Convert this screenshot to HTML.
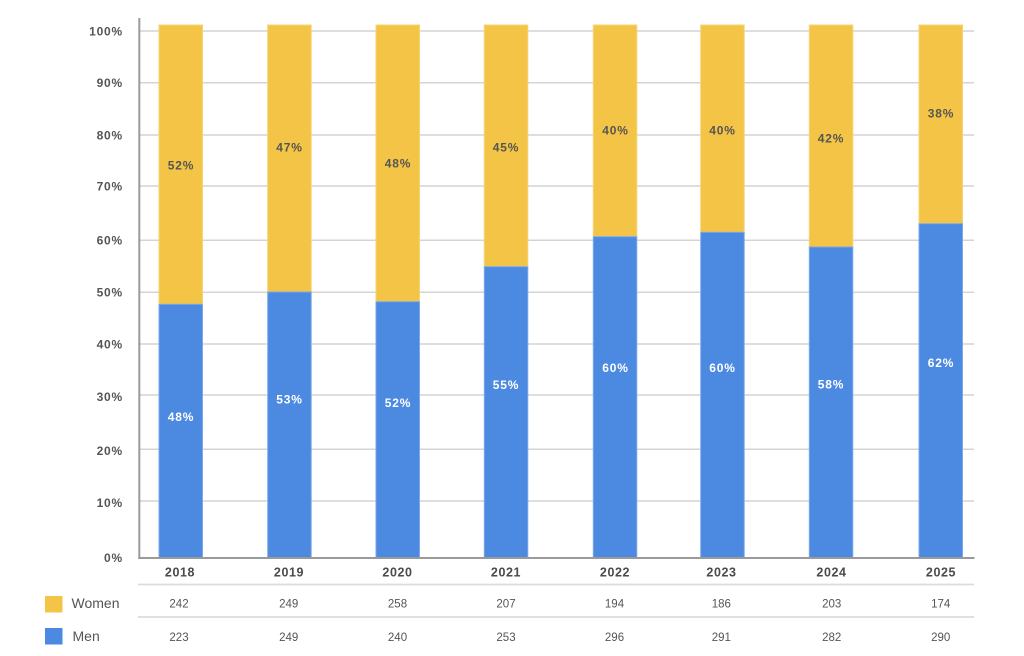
<!DOCTYPE html>
<html>
<head>
<meta charset="utf-8">
<style>
  html, body { margin:0; padding:0; background:#fff; }
  body { width:1024px; height:656px; overflow:hidden; }
  svg { display:block; }
  .yl { font-family:"Liberation Sans", sans-serif; font-weight:bold; font-size:12px; fill:#555; letter-spacing:0.8px; }
  .xl { font-family:"Liberation Sans", sans-serif; font-weight:bold; font-size:12.5px; fill:#4a4a4a; letter-spacing:0.6px; }
  .wl { font-family:"Liberation Sans", sans-serif; font-weight:bold; font-size:12px; fill:#555; letter-spacing:0.8px; }
  .ml { font-family:"Liberation Sans", sans-serif; font-weight:bold; font-size:12px; fill:#fff; letter-spacing:0.8px; }
  .tn { font-family:"Liberation Sans", sans-serif; font-size:11.5px; fill:#555; }
  .lg { font-family:"Liberation Sans", sans-serif; font-size:14px; fill:#555; }
</style>
</head>
<body>
<svg width="1024" height="656" viewBox="0 0 1024 656" xmlns="http://www.w3.org/2000/svg">
  <!-- gridlines -->
  <g stroke="#d4d4d4" stroke-width="1.5">
    <line x1="139" y1="31" x2="974" y2="31"/>
    <line x1="139" y1="82.7" x2="974" y2="82.7"/>
    <line x1="139" y1="135" x2="974" y2="135"/>
    <line x1="139" y1="186" x2="974" y2="186"/>
    <line x1="139" y1="240.3" x2="974" y2="240.3"/>
    <line x1="139" y1="292.3" x2="974" y2="292.3"/>
    <line x1="139" y1="344" x2="974" y2="344"/>
    <line x1="139" y1="395" x2="974" y2="395"/>
    <line x1="139" y1="449.3" x2="974" y2="449.3"/>
    <line x1="139" y1="501" x2="974" y2="501"/>
  </g>

  <!-- y labels -->
  <g class="yl" text-anchor="end">
    <text x="123" y="35.5">100%</text>
    <text x="123" y="87">90%</text>
    <text x="123" y="139.5">80%</text>
    <text x="123" y="190.5">70%</text>
    <text x="123" y="244.5">60%</text>
    <text x="123" y="296.5">50%</text>
    <text x="123" y="348.5">40%</text>
    <text x="123" y="401">30%</text>
    <text x="123" y="455">20%</text>
    <text x="123" y="507">10%</text>
    <text x="123" y="562">0%</text>
  </g>

  <!-- bars -->
  <g stroke-width="1">
    <!-- 2018 -->
    <rect x="159" y="25" width="43.5" height="279.3" fill="#F4C446" stroke="#F7D373"/>
    <rect x="159" y="304.3" width="43.5" height="253.7" fill="#4C89E0" stroke="#7DA8EA"/>
    <!-- 2019 -->
    <rect x="267.7" y="25" width="43.5" height="267" fill="#F4C446" stroke="#F7D373"/>
    <rect x="267.7" y="292" width="43.5" height="266" fill="#4C89E0" stroke="#7DA8EA"/>
    <!-- 2020 -->
    <rect x="376" y="25" width="43.5" height="276.7" fill="#F4C446" stroke="#F7D373"/>
    <rect x="376" y="301.7" width="43.5" height="256.3" fill="#4C89E0" stroke="#7DA8EA"/>
    <!-- 2021 -->
    <rect x="484.3" y="25" width="43.5" height="241.7" fill="#F4C446" stroke="#F7D373"/>
    <rect x="484.3" y="266.7" width="43.5" height="291.3" fill="#4C89E0" stroke="#7DA8EA"/>
    <!-- 2022 -->
    <rect x="593.3" y="25" width="43.5" height="211.7" fill="#F4C446" stroke="#F7D373"/>
    <rect x="593.3" y="236.7" width="43.5" height="321.3" fill="#4C89E0" stroke="#7DA8EA"/>
    <!-- 2023 -->
    <rect x="700.7" y="25" width="43.5" height="207.3" fill="#F4C446" stroke="#F7D373"/>
    <rect x="700.7" y="232.3" width="43.5" height="325.7" fill="#4C89E0" stroke="#7DA8EA"/>
    <!-- 2024 -->
    <rect x="809.3" y="25" width="43.5" height="222" fill="#F4C446" stroke="#F7D373"/>
    <rect x="809.3" y="247" width="43.5" height="311" fill="#4C89E0" stroke="#7DA8EA"/>
    <!-- 2025 -->
    <rect x="919" y="25" width="43.5" height="198.7" fill="#F4C446" stroke="#F7D373"/>
    <rect x="919" y="223.7" width="43.5" height="334.3" fill="#4C89E0" stroke="#7DA8EA"/>
  </g>

  <!-- axes -->
  <line x1="139.3" y1="18" x2="139.3" y2="559" stroke="#9a9a9a" stroke-width="2"/>
  <line x1="138.3" y1="558" x2="974.5" y2="558" stroke="#9a9a9a" stroke-width="2"/>

  <!-- women labels -->
  <g class="wl" text-anchor="middle">
    <text x="181" y="169.5">52%</text>
    <text x="289.5" y="151.5">47%</text>
    <text x="398" y="167.5">48%</text>
    <text x="506" y="151.5">45%</text>
    <text x="615.5" y="134.5">40%</text>
    <text x="722.5" y="134.5">40%</text>
    <text x="831" y="142.5">42%</text>
    <text x="941" y="117.5">38%</text>
  </g>

  <!-- men labels -->
  <g class="ml" text-anchor="middle">
    <text x="181" y="421">48%</text>
    <text x="289.5" y="403.5">53%</text>
    <text x="398" y="407">52%</text>
    <text x="506" y="389">55%</text>
    <text x="615.5" y="372">60%</text>
    <text x="722.5" y="372">60%</text>
    <text x="831" y="388.5">58%</text>
    <text x="941" y="367">62%</text>
  </g>

  <!-- x labels -->
  <g class="xl" text-anchor="middle">
    <text x="180" y="576.5">2018</text>
    <text x="289" y="576.5">2019</text>
    <text x="397.5" y="576.5">2020</text>
    <text x="506" y="576.5">2021</text>
    <text x="615" y="576.5">2022</text>
    <text x="721.5" y="576.5">2023</text>
    <text x="831.5" y="576.5">2024</text>
    <text x="941" y="576.5">2025</text>
  </g>

  <!-- table lines -->
  <line x1="138" y1="584.5" x2="974" y2="584.5" stroke="#dcdcdc" stroke-width="1.8"/>
  <line x1="138" y1="617" x2="974" y2="617" stroke="#dcdcdc" stroke-width="1.8"/>

  <!-- legend -->
  <rect x="45" y="596" width="17.5" height="16.5" fill="#F4C446"/>
  <rect x="45" y="628" width="17.5" height="16.5" fill="#4C89E0"/>
  <text class="lg" x="71.5" y="608">Women</text>
  <text class="lg" x="72.5" y="641">Men</text>

  <!-- table numbers -->
  <g class="tn" text-anchor="middle">
    <text x="179" y="607.5">242</text>
    <text x="288.7" y="607.5">249</text>
    <text x="397.5" y="607.5">258</text>
    <text x="506" y="607.5">207</text>
    <text x="614.5" y="607.5">194</text>
    <text x="721.3" y="607.5">186</text>
    <text x="831.7" y="607.5">203</text>
    <text x="940.7" y="607.5">174</text>

    <text x="179" y="641">223</text>
    <text x="288.7" y="641">249</text>
    <text x="397.5" y="641">240</text>
    <text x="506" y="641">253</text>
    <text x="614.5" y="641">296</text>
    <text x="721.3" y="641">291</text>
    <text x="831.7" y="641">282</text>
    <text x="940.7" y="641">290</text>
  </g>
</svg>
</body>
</html>
